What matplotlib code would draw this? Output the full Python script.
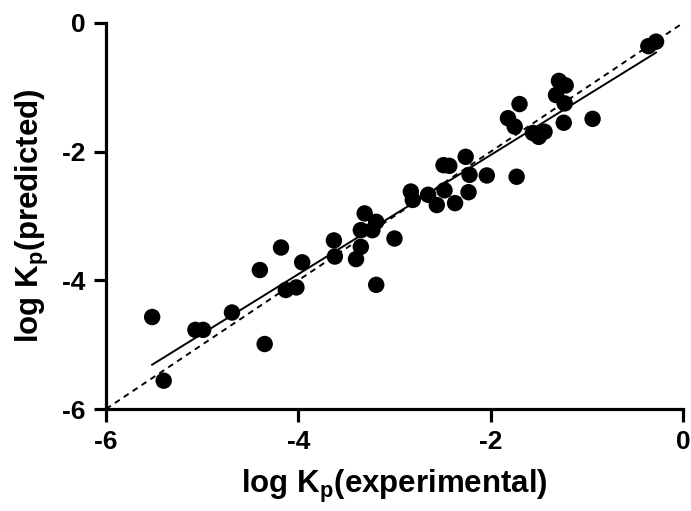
import numpy as np
import matplotlib
matplotlib.use('Agg')
import matplotlib.pyplot as plt

# log Kp values
log_kp_exp = [-5.52, -5.40, -5.07, -4.99, -4.69, -4.40, -4.35, -4.18, -4.13, -4.02,
              -3.96, -3.63, -3.62, -3.40, -3.35, -3.35, -3.31, -3.19, -3.23, -3.00,
              -3.19, -2.83, -2.81, -2.65, -2.56, -2.48, -2.49, -2.43, -2.37, -2.26,
              -2.22, -2.23, -2.04, -1.73, -1.82, -1.75, -1.70, -1.56, -1.44, -1.50,
              -1.29, -1.22, -1.32, -1.23, -1.24, -0.94, -0.36, -0.28]
log_kp_pred = [-4.57, -5.56, -4.77, -4.77, -4.50, -3.84, -4.99, -3.49, -4.15, -4.11,
               -3.72, -3.38, -3.63, -3.67, -3.48, -3.22, -2.96, -3.09, -3.22, -3.35,
               -4.07, -2.62, -2.75, -2.67, -2.83, -2.60, -2.21, -2.22, -2.80, -2.08,
               -2.36, -2.63, -2.37, -2.39, -1.48, -1.61, -1.26, -1.71, -1.69, -1.77,
               -0.90, -0.97, -1.12, -1.25, -1.55, -1.49, -0.36, -0.29]
ticks = [-6, -4, -2, 0]

plt.rcParams['font.family'] = 'Liberation Sans'
plt.rcParams['font.weight'] = 'bold'
plt.rcParams['axes.unicode_minus'] = False
plt.rcParams['mathtext.fontset'] = 'custom'
plt.rcParams['mathtext.rm'] = 'Liberation Sans:bold'
plt.rcParams['mathtext.default'] = 'rm'

fig = plt.figure(figsize=(6.91, 5.11), dpi=100)
ax = fig.add_axes([0.1534, 0.1996, 0.8350, 0.7554])

x = np.array(log_kp_exp)
y = np.array(log_kp_pred)

# identity line
ax.plot([-6, 0], [-6, 0], color='black', linestyle=(0, (3, 2.5)), linewidth=1.4, zorder=1)

# linear fit over data range
slope, icpt = np.polyfit(x, y, 1)
xf = np.array([x.min(), x.max()])
ax.plot(xf, slope * xf + icpt, color='black', linewidth=1.4, zorder=1)

ax.scatter(x, y, s=140, color='black', edgecolors='none', zorder=3)

ax.set_xlim(-6, 0)
ax.set_ylim(-6, 0)
ax.set_xticks(ticks)
ax.set_yticks(ticks)
ax.spines['top'].set_visible(False)
ax.spines['right'].set_visible(False)
for s in ['left', 'bottom']:
    ax.spines[s].set_linewidth(2.3)
ax.tick_params(width=2.3, length=9, labelsize=19, pad=6)
for lab in ax.get_xticklabels() + ax.get_yticklabels():
    lab.set_fontweight('bold')

ax.set_xlabel('log K$_{\\mathrm{p}}$(experimental)', fontsize=22.5, fontweight='bold', labelpad=10)
ax.set_ylabel('log K$_{\\mathrm{p}}$(predicted)', fontsize=22.5, fontweight='bold', labelpad=8)

fig.savefig('out.png', dpi=100)
